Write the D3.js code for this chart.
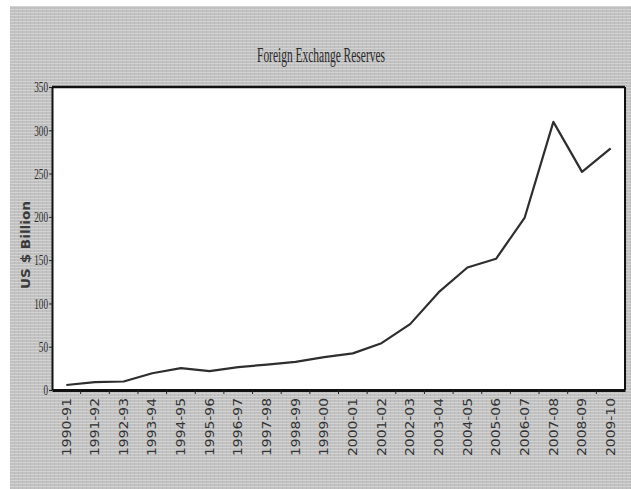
<!DOCTYPE html>
<html><head><meta charset="utf-8">
<script src="https://cdn.jsdelivr.net/npm/d3@7/dist/d3.min.js"></script>
<style>html,body{margin:0;padding:0;background:#fff;}svg{display:block;}</style>
</head><body>
<svg id="chart" width="631" height="489"></svg>
<script>
const categories = ["1990-91","1991-92","1992-93","1993-94","1994-95","1995-96","1996-97","1997-98","1998-99","1999-00","2000-01","2001-02","2002-03","2003-04","2004-05","2005-06","2006-07","2007-08","2008-09","2009-10"];
const reserves = [5.8,9.2,9.8,19.3,25.2,21.7,26.4,29.4,32.5,38.0,42.3,54.1,76.1,113.0,141.5,151.6,199.2,309.7,252.0,279.1];
const yTicks = [0,50,100,150,200,250,300,350];
const title = "Foreign Exchange Reserves";
const yLabel = "US $ Billion";

const svg = d3.select("#chart");
const defs = svg.append("defs");
const pat = defs.append("pattern").attr("id","bg").attr("width",4).attr("height",3).attr("patternUnits","userSpaceOnUse");
pat.append("rect").attr("width",4).attr("height",3).attr("fill","#c2c2c2");
pat.append("rect").attr("width",4).attr("height",1).attr("fill","#d2d2d2");
pat.append("rect").attr("x",2).attr("y",1).attr("width",1).attr("height",2).attr("fill","#b8b8b8");

svg.append("rect").attr("x",10).attr("y",6).attr("width",621).attr("height",483).attr("fill","url(#bg)");

const L=52, R=625, T=87, B=390;
const x = d3.scaleBand().domain(categories).range([L,R]).padding(0);
const y = d3.scaleLinear().domain([0,350]).range([B,T]);

svg.append("rect").attr("x",L).attr("y",T).attr("width",R-L).attr("height",B-T).attr("fill","#fff");

// line
const line = d3.line().x((d,i)=>x(categories[i])+x.bandwidth()/2).y(d=>y(d));
svg.append("path").datum(reserves).attr("d",line).attr("fill","none")
  .attr("stroke","#2e2e2e").attr("stroke-width",2.2).attr("stroke-linejoin","round");

// border
svg.append("line").attr("x1",L).attr("x2",R).attr("y1",T).attr("y2",T).attr("stroke","#111").attr("stroke-width",2.5);
svg.append("line").attr("x1",R).attr("x2",R).attr("y1",T).attr("y2",B).attr("stroke","#111").attr("stroke-width",2);

// y axis
const yAxis = svg.append("g").attr("transform",`translate(${L},0)`)
  .call(d3.axisLeft(y).tickValues(yTicks).tickSize(3).tickSizeOuter(0));
yAxis.select(".domain").attr("stroke","#111").attr("stroke-width",2);
yAxis.selectAll(".tick line").attr("stroke","#222");
yAxis.selectAll(".tick text")
  .attr("font-family","'Liberation Serif', serif").attr("font-size",15).attr("fill","#2a2a2a")
  .attr("text-anchor","end").attr("x",-4)
  .each(function(d){
    const s=String(d);
    d3.select(this).attr("textLength", s.length*4.6).attr("lengthAdjust","spacingAndGlyphs");
  });

// x axis
const xAxis = svg.append("g").attr("transform",`translate(0,${B})`)
  .call(d3.axisBottom(x).tickSize(0).tickSizeOuter(0));
xAxis.select(".domain").attr("stroke","#111").attr("stroke-width",3);
xAxis.selectAll(".bt").data(categories.slice(1)).enter().append("line").attr("class","bt")
  .attr("x1",d=>x(d)).attr("x2",d=>x(d)).attr("y1",0).attr("y2",4).attr("stroke","#222").attr("stroke-width",1);
xAxis.selectAll(".tick text")
  .attr("font-family","'DejaVu Sans', sans-serif").attr("font-size",12).attr("fill","#333")
  .attr("text-anchor","end").attr("transform","rotate(-90)").attr("x",-8).attr("y",0).attr("dy","0.35em")
  .attr("textLength",58).attr("lengthAdjust","spacingAndGlyphs");

// title
svg.append("text").attr("x",321).attr("y",62).attr("text-anchor","middle")
  .attr("font-family","'Liberation Serif', serif").attr("font-size",20).attr("fill","#2a2a2a")
  .attr("textLength",128).attr("lengthAdjust","spacingAndGlyphs").text(title);

// y label
svg.append("text").attr("transform","translate(30,245) rotate(-90)").attr("text-anchor","middle")
  .attr("font-family","'DejaVu Sans', sans-serif").attr("font-size",12).attr("font-weight","600").attr("fill","#3a3a3a")
  .attr("textLength",88).attr("lengthAdjust","spacingAndGlyphs").text(yLabel);
</script>
</body></html>
